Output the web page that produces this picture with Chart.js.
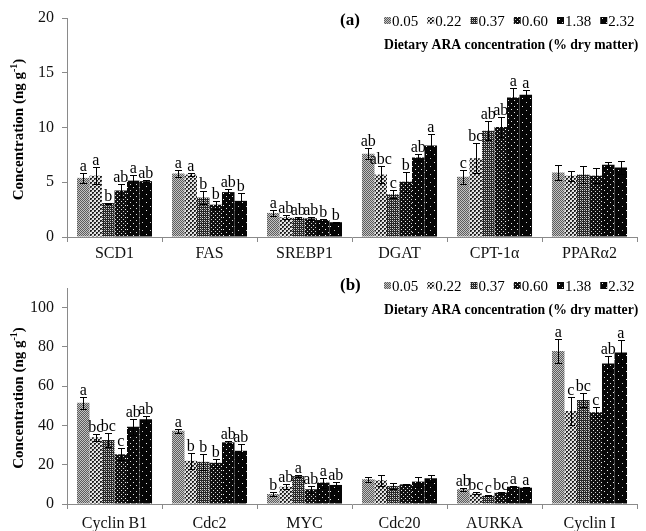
<!DOCTYPE html>
<html>
<head>
<meta charset="utf-8">
<title>Dietary ARA concentration</title>
<script src="https://cdn.jsdelivr.net/npm/chart.js@4"></script>
<style>
  html, body { margin: 0; padding: 0; background: #fff; }
  #wrap { position: relative; width: 646px; height: 531px; background: #fff; }
  #wrap canvas { position: absolute; left: 0; }
</style>
</head>
<body>
<div id="wrap">
  <canvas id="chartA" width="646" height="265" style="top:0"></canvas>
  <canvas id="chartB" width="646" height="266" style="top:265px"></canvas>
</div>
<script>
// Dietary ARA levels (% dry matter), one bar series each
const doses = ['0.05', '0.22', '0.37', '0.60', '1.38', '2.32'];
const legendTitle = 'Dietary ARA concentration (% dry matter)';

// Panel (a): lipid metabolism genes
const genesA = ['SCD1', 'FAS', 'SREBP1', 'DGAT', 'CPT-1\u03b1', 'PPAR\u03b12'];
const yTicksA = [0, 5, 10, 15, 20];
// rows = dose, columns = gene
const meansA = [
  [5.4, 5.8, 2.2, 7.6, 5.5, 5.9],
  [5.6, 5.7, 1.8, 5.7, 7.2, 5.6],
  [3.1, 3.6, 1.75, 3.9, 9.7, 5.7],
  [4.25, 2.95, 1.7, 5.05, 10.05, 5.6],
  [5.15, 4.1, 1.55, 7.25, 12.75, 6.6],
  [5.1, 3.3, 1.35, 8.35, 13.0, 6.35]
];
const errA = [
  [0.45, 0.3, 0.25, 0.5, 0.65, 0.65],
  [0.75, 0.15, 0.2, 0.8, 1.4, 0.45],
  [0.05, 0.6, 0.1, 0.35, 0.85, 0.8],
  [0.6, 0.35, 0.15, 0.9, 0.9, 0.7],
  [0.5, 0.3, 0.1, 0.3, 0.85, 0.25],
  [0.08, 0.7, 0.06, 1.05, 0.4, 0.6]
];
const lettersA = [
  ['a', 'a', 'a', 'ab', 'c', ''],
  ['a', 'a', 'ab', 'abc', 'bc', ''],
  ['b', 'b', 'ab', 'c', 'ab', ''],
  ['ab', 'b', 'ab', 'b', 'ab', ''],
  ['a', 'ab', 'b', 'ab', 'a', ''],
  ['ab', 'b', 'b', 'a', 'a', '']
];

// Panel (b): cell cycle genes
const genesB = ['Cyclin B1', 'Cdc2', 'MYC', 'Cdc20', 'AURKA', 'Cyclin I'];
const yTicksB = [0, 20, 40, 60, 80, 100];
const meansB = [
  [51.6, 37.3, 5.1, 12.6, 7.5, 77.9],
  [34.0, 22.0, 8.8, 12.1, 5.4, 47.3],
  [32.6, 21.5, 14.2, 9.2, 4.2, 52.9],
  [25.3, 21.0, 7.5, 10.0, 5.8, 46.7],
  [39.3, 31.4, 10.9, 11.4, 8.8, 71.6],
  [43.1, 27.1, 9.7, 13.1, 8.3, 77.2]
];
const errB = [
  [3.0, 1.0, 0.8, 1.3, 0.8, 5.9],
  [1.7, 4.2, 1.4, 2.7, 0.5, 7.0],
  [3.4, 4.0, 0.4, 1.7, 0.3, 3.4],
  [3.0, 2.0, 1.8, 0.4, 0.5, 2.5],
  [4.2, 0.9, 2.5, 2.5, 0.3, 3.7],
  [1.8, 3.7, 1.4, 1.7, 0.3, 6.1]
];
const lettersB = [
  ['a', 'a', 'b', '', 'ab', 'a'],
  ['bc', 'b', 'ab', '', 'bc', 'c'],
  ['bc', 'b', 'a', '', 'c', 'bc'],
  ['c', 'b', 'ab', '', 'bc', 'c'],
  ['ab', 'ab', 'a', '', 'a', 'ab'],
  ['ab', 'ab', 'ab', '', 'a', 'a']
];

const SERIF = '"Liberation Serif", "Times New Roman", serif';
const AXIS_GREY = '#8a8a8a';

Chart.defaults.font.family = SERIF;
Chart.defaults.color = '#111';

/**
 * Build a small repeating fill like the Excel pattern fills
 * @param {number} size - tile size in px
 * @param {string} bg - background colour
 * @param {Array} dots - [x, y, colour] pixels drawn over the background
 */
function makePattern(size, bg, dots) {
  const c = document.createElement('canvas');
  c.width = size;
  c.height = size;
  const g = c.getContext('2d');
  g.fillStyle = bg;
  g.fillRect(0, 0, size, size);
  dots.forEach(([x, y, col]) => {
    g.fillStyle = col;
    g.fillRect(x, y, 1, 1);
  });
  return g.createPattern(c, 'repeat');
}

function buildPatterns() {
  return [
    makePattern(2, '#c4c4c4', [[0, 0, '#5c5c5c'], [1, 1, '#5c5c5c']]),
    makePattern(4, '#e4e4e4', [[0, 0, '#222'], [1, 0, '#222'], [0, 1, '#222'], [1, 1, '#777'],
      [2, 2, '#222'], [3, 2, '#222'], [2, 3, '#222'], [3, 3, '#777']]),
    makePattern(4, '#262626', [[0, 0, '#e0e0e0'], [2, 0, '#bdbdbd'], [0, 2, '#bdbdbd'], [2, 2, '#e0e0e0'], [1, 1, '#777']]),
    makePattern(4, '#111', [[1, 1, '#f0f0f0'], [3, 3, '#d0d0d0']]),
    makePattern(6, '#080808', [[1, 1, '#f4f4f4'], [4, 4, '#e0e0e0']]),
    makePattern(8, '#050505', [[2, 2, '#f4f4f4'], [6, 6, '#cccccc']])
  ];
}

// Error bars and significance letters
const errorBarPlugin = {
  id: 'errorBars',
  afterDatasetsDraw(chart) {
    const ctx = chart.ctx;
    const yScale = chart.scales.y;
    ctx.save();
    ctx.strokeStyle = '#000';
    ctx.lineWidth = 1;
    ctx.fillStyle = '#000';
    ctx.font = '16px ' + SERIF;
    ctx.textAlign = 'center';
    ctx.textBaseline = 'alphabetic';
    chart.data.datasets.forEach((ds, i) => {
      chart.getDatasetMeta(i).data.forEach((bar, j) => {
        const v = ds.data[j];
        const e = ds.err[j];
        const x = Math.round(bar.x) + 0.5;
        const top = Math.round(yScale.getPixelForValue(v + e)) + 0.5;
        const bot = Math.round(yScale.getPixelForValue(v - e)) + 0.5;
        ctx.beginPath();
        ctx.moveTo(x, top);
        ctx.lineTo(x, bot);
        ctx.moveTo(x - 3.5, top);
        ctx.lineTo(x + 3.5, top);
        ctx.moveTo(x - 3.5, bot);
        ctx.lineTo(x + 3.5, bot);
        ctx.stroke();
        if (ds.letters[j]) {
          ctx.fillText(ds.letters[j], bar.x, top - 3);
        }
      });
    });
    ctx.restore();
  }
};

// Panel tag, dose legend and its caption inside the plot area
const doseLegendPlugin = {
  id: 'doseLegend',
  afterDraw(chart, args, opts) {
    const ctx = chart.ctx;
    const rowY = opts.rowY;
    ctx.save();
    ctx.textAlign = 'left';
    ctx.textBaseline = 'middle';
    ctx.fillStyle = '#000';
    ctx.font = 'bold 17px ' + SERIF;
    ctx.fillText(opts.panel, 340, rowY);

    ctx.font = '15px ' + SERIF;
    let x = 384;
    chart.data.datasets.forEach(ds => {
      ctx.fillStyle = ds.backgroundColor;
      ctx.fillRect(x, rowY - 4, 7, 7);
      ctx.fillStyle = '#000';
      ctx.fillText(ds.label, x + 8, rowY + 1);
      x += 8 + ctx.measureText(ds.label).width + 9;
    });

    ctx.font = 'bold 13.7px ' + SERIF;
    ctx.fillText(legendTitle, 384, rowY + 24);
    ctx.restore();
  }
};

// Rotated y title with a superscript -1
const yTitlePlugin = {
  id: 'yTitle',
  afterDraw(chart) {
    const ctx = chart.ctx;
    const area = chart.chartArea;
    const main = 'Concentration (ng g';
    const sup = '-1';
    const close = ')';
    const big = 'bold 15px ' + SERIF;
    const small = 'bold 10px ' + SERIF;
    ctx.save();
    ctx.translate(19, (area.top + area.bottom) / 2 + 2);
    ctx.rotate(-Math.PI / 2);
    ctx.fillStyle = '#000';
    ctx.textAlign = 'left';
    ctx.textBaseline = 'middle';
    ctx.font = big;
    const w1 = ctx.measureText(main).width;
    const w3 = ctx.measureText(close).width;
    ctx.font = small;
    const w2 = ctx.measureText(sup).width;
    let x = -(w1 + w2 + w3) / 2;
    ctx.font = big;
    ctx.fillText(main, x, 0);
    x += w1;
    ctx.font = small;
    ctx.fillText(sup, x, -5);
    x += w2;
    ctx.font = big;
    ctx.fillText(close, x, 0);
    ctx.restore();
  }
};

/**
 * Draw one grouped bar panel
 */
function makePanel(canvasId, genes, means, errs, letters, yMax, yTicks, panel, topPad, xHeight, labelPad) {
  const canvas = document.getElementById(canvasId);
  const patterns = buildPatterns();
  const datasets = doses.map((d, i) => ({
    label: d,
    data: means[i],
    err: errs[i],
    letters: letters[i],
    backgroundColor: patterns[i],
    borderWidth: 0,
    barPercentage: 1,
    categoryPercentage: 0.79
  }));

  return new Chart(canvas.getContext('2d'), {
    type: 'bar',
    data: { labels: genes, datasets: datasets },
    options: {
      responsive: false,
      animation: false,
      devicePixelRatio: 1,
      layout: { padding: { top: topPad, right: 9, left: 0, bottom: 0 } },
      plugins: {
        legend: { display: false },
        tooltip: { enabled: false },
        doseLegend: { panel: panel, rowY: 21 }
      },
      scales: {
        x: {
          grid: {
            display: true,
            drawOnChartArea: false,
            drawTicks: true,
            tickLength: 5,
            color: AXIS_GREY,
            offset: true
          },
          border: { color: AXIS_GREY, width: 1 },
          ticks: { font: { size: 16 }, color: '#111', padding: labelPad, maxRotation: 0 },
          afterFit(scale) { scale.height = xHeight; }
        },
        y: {
          min: 0,
          max: yMax,
          grid: {
            display: true,
            drawOnChartArea: false,
            drawTicks: true,
            tickLength: 5,
            color: AXIS_GREY
          },
          border: { color: AXIS_GREY, width: 1 },
          ticks: { font: { size: 16 }, color: '#111', padding: 8 },
          afterBuildTicks(axis) { axis.ticks = yTicks.map(v => ({ value: v })); },
          afterFit(scale) { scale.width = 67; }
        }
      }
    },
    plugins: [errorBarPlugin, doseLegendPlugin, yTitlePlugin]
  });
}

makePanel('chartA', genesA, meansA, errA, lettersA, 20, yTicksA, '(a)', 18, 28, 2);
makePanel('chartB', genesB, meansB, errB, lettersB, 110, yTicksB, '(b)', 23, 27, 5);
</script>
</body>
</html>
